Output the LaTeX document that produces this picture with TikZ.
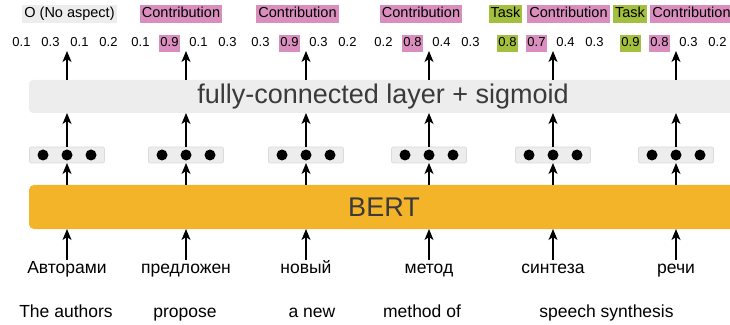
\documentclass[tikz,border=0pt]{standalone}
\usepackage{fontspec}
\setmainfont{Liberation Sans}
\usetikzlibrary{arrows.meta,positioning,calc}
\definecolor{contrib}{HTML}{D98EBE}
\definecolor{task}{HTML}{A3BF3D}
\definecolor{layer}{HTML}{EDEDED}
\definecolor{bertcol}{HTML}{F4B42A}
\definecolor{ink}{HTML}{3A3A3A}

\begin{document}
\begin{tikzpicture}[x=1pt, y=1pt, line width=1.2pt,
      >={Stealth[length=11pt, width=9pt, inset=3pt]},
      every node/.append style={inner sep=0pt, outer sep=0pt},
      word/.style={anchor=base, text height=13.5pt, text depth=4pt,
        font=\fontsize{17.5}{20}\selectfont},
      gloss/.style={anchor=base, font=\fontsize{17.5}{20}\selectfont},
      score/.style={anchor=base, text height=9pt, text depth=2pt,
        inner xsep=1.8pt, inner ysep=3pt, font=\fontsize{13}{15}\selectfont},
      tag/.style={anchor=base, text height=11pt, text depth=3pt,
        inner xsep=2pt, inner ysep=2pt, font=\fontsize{14.5}{17}\selectfont},
      wide/.style={text=ink, font=\fontsize{27}{30}\selectfont},
      vec/.style={fill=layer, draw=black!14, line width=0.8pt, rounded corners=2pt,
        minimum width=75pt, minimum height=16pt},
      dot/.style={circle, fill=black, minimum size=11pt}]
    \useasboundingbox (0,0) rectangle (730,324);
    \clip (0,0) rectangle (730,324);

    \node (bert) [wide, fill=bertcol, rounded corners=5pt,
      minimum width=710pt, minimum height=44pt] at (384,117) {BERT};
    \node (fc) [wide, fill=layer, rounded corners=4pt,
      minimum width=708pt, minimum height=33pt] at (383,227.5) {fully-connected layer + sigmoid};

    \foreach \x/\w/\s [count=\i] in {
        67/Авторами/{0.1/none,0.3/none,0.1/none,0.2/none},
        186/предложен/{0.1/none,0.9/contrib,0.1/none,0.3/none},
        306/новый/{0.3/none,0.9/contrib,0.3/none,0.2/none},
        429/метод/{0.2/none,0.8/contrib,0.4/none,0.3/none},
        553/синтеза/{0.8/task,0.7/contrib,0.4/none,0.3/none},
        676/речи/{0.9/task,0.8/contrib,0.3/none,0.2/none}} {
      \node (w\i) [word] at (\x,51) {\w};
      \node (h\i) [vec] at (\x,169) {};
      \foreach \d in {-24,0,24}
        \node [dot] at ($(h\i)+(\d,0)$) {};
      \coordinate (o\i) at (\x,273);
      \draw[->] (w\i) -- (w\i |- bert.south);
      \draw[->] (w\i |- bert.north) -- (h\i);
      \draw[->] (h\i) -- (h\i |- fc.south);
      \draw[->] (h\i |- fc.north) -- (o\i);
      \foreach \v/\c [count=\j] in \s
        \node (s\i-\j) [score, fill=\c] at ({\x-2+(\j-2.5)*29},277) {\v};
    }

    \node (t1) [tag, fill=layer] at (69.5,306) {O (No aspect)};
    \node (t2) [tag, fill=contrib] at (181,306) {Contribution};
    \node (t3) [tag, fill=contrib] at (297.5,306) {Contribution};
    \node (t4) [tag, fill=contrib] at (421,306) {Contribution};
    \node (t5a) [tag, fill=task] at (505.5,306) {Task};
    \node (t5b) [tag, fill=contrib] at (568.5,306) {Contribution};
    \node (t6a) [tag, fill=task] at (630,306) {Task};
    \node (t6b) [tag, fill=contrib] at (691.5,306) {Contribution};

    \node (g1) [gloss] at (66,7) {The authors};
    \node (g2) [gloss] at (185,7) {propose};
    \node (g3) [gloss] at (312,7) {a new};
    \node (g4) [gloss] at (422,7) {method of};
    \node (g5) [gloss] at (606.5,7) {speech synthesis};
  \end{tikzpicture}
\end{document}
